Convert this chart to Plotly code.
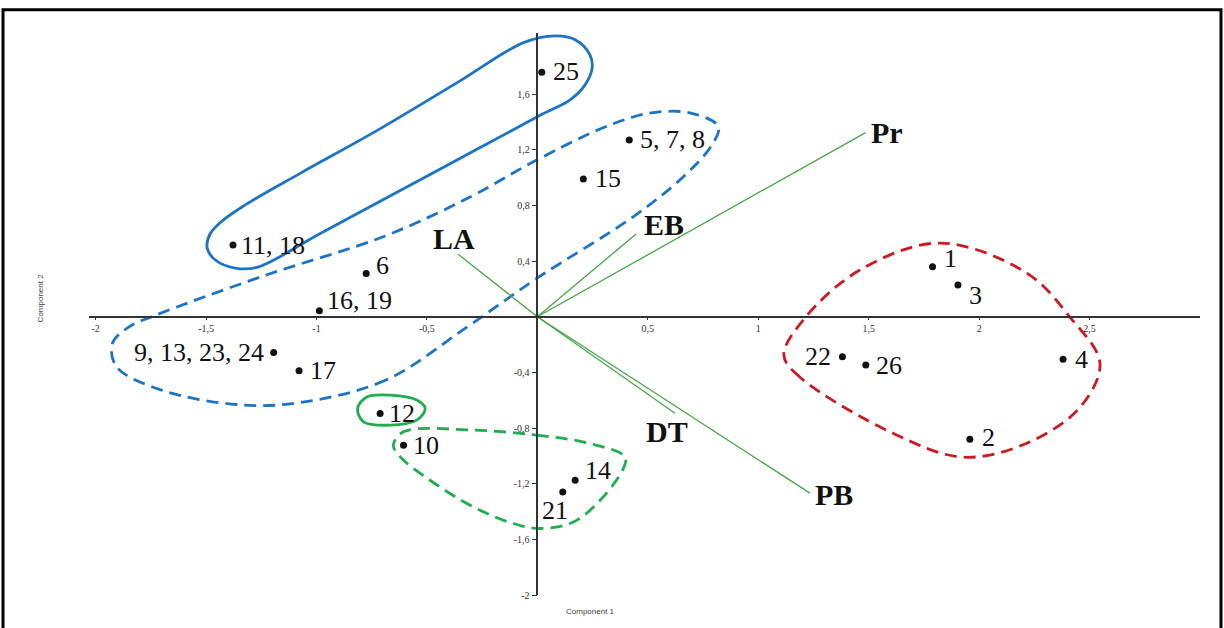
import plotly.graph_objects as go

# ---- sample scores on the first two principal components ----
sample_labels = ["25", "5, 7, 8", "15", "11, 18", "6", "16, 19", "9, 13, 23, 24", "17",
                 "12", "10", "14", "21", "1", "3", "22", "26", "4", "2"]
pc1_scores = [0.02, 0.416, 0.208, -1.378, -0.775, -0.987, -1.194, -1.079,
              -0.712, -0.606, 0.171, 0.115, 1.789, 1.904, 1.381, 1.487, 2.380, 1.958]
pc2_scores = [1.758, 1.270, 0.991, 0.516, 0.312, 0.043, -0.256, -0.388,
              -0.695, -0.923, -1.175, -1.259, 0.360, 0.228, -0.288, -0.347, -0.306, -0.880]

# ---- variable loadings (biplot vectors) ----
variable_names = ["Pr", "EB", "LA", "DT", "PB"]
load_pc1 = [1.486, 0.447, -0.360, 0.623, 1.234]
load_pc2 = [1.324, 0.595, 0.451, -0.693, -1.268]

# ---- axis ticks ----
x_tickvals = [-2, -1.5, -1, -0.5, 0.5, 1, 1.5, 2, 2.5]
x_ticktext = ["-2", "-1,5", "-1", "-0,5", "0,5", "1", "1,5", "2", "2,5"]
y_tickvals = [-2, -1.6, -1.2, -0.8, -0.4, 0.4, 0.8, 1.2, 1.6]
y_ticktext = ["-2", "-1,6", "-1,2", "-0,8", "-0,4", "0,4", "0,8", "1,2", "1,6"]

# ---- group outlines (closed curves, in component units) ----
outline_blue_solid = [(-0.621, 0.908), (-0.983, 0.599), (-1.270, 0.355), (-1.368, 0.350),
                      (-1.458, 0.408), (-1.495, 0.494), (-1.482, 0.595), (-1.427, 0.689),
                      (-1.323, 0.804), (-1.074, 1.031), (-0.713, 1.351), (-0.350, 1.696),
                      (-0.065, 1.969), (0.080, 2.019), (0.171, 1.991), (0.238, 1.883),
                      (0.248, 1.789), (0.216, 1.667), (0.148, 1.559), (0.012, 1.448),
                      (-0.259, 1.217)]
outline_blue_dash = [(-0.317, -0.072), (-0.686, -0.455), (-1.056, -0.612), (-1.332, -0.635),
                     (-1.702, -0.527), (-1.905, -0.360), (-1.924, -0.191), (-1.849, -0.072),
                     (-1.739, 0.005), (-1.241, 0.293), (-0.689, 0.581), (-0.305, 0.861),
                     (-0.003, 1.127), (0.329, 1.379), (0.525, 1.468), (0.699, 1.463),
                     (0.819, 1.367), (0.790, 1.235), (0.661, 1.007), (0.434, 0.719),
                     (-0.003, 0.276)]
outline_green_solid = [(-0.667, -0.563), (-0.546, -0.599), (-0.508, -0.659), (-0.546, -0.743),
                       (-0.667, -0.779), (-0.787, -0.755), (-0.814, -0.659), (-0.772, -0.576)]
outline_green_dash = [(-0.290, -0.815), (-0.003, -0.851), (0.238, -0.911), (0.397, -1.007),
                      (0.389, -1.091), (0.284, -1.319), (0.163, -1.475), (0.012, -1.522),
                      (-0.109, -1.486), (-0.290, -1.367), (-0.486, -1.175), (-0.621, -1.007),
                      (-0.652, -0.923), (-0.606, -0.827)]
outline_red_dash = [(1.610, -0.837), (1.189, -0.434), (1.116, -0.276), (1.211, -0.009),
                    (1.460, 0.336), (1.822, 0.530), (2.216, 0.314), (2.411, -0.002),
                    (2.547, -0.333), (2.457, -0.650), (2.216, -0.909), (1.926, -1.009)]

# label placement: (xanchor, xshift px, yshift px)
sample_label_pos = {
    "25": ("left", 9, 1), "5, 7, 8": ("left", 9, 1), "15": ("left", 10, 0),
    "11, 18": ("left", 6, 0), "6": ("left", 8, 8), "16, 19": ("left", 6, 10),
    "9, 13, 23, 24": ("right", -8, 0), "17": ("left", 9, 0), "12": ("left", 7, 0),
    "10": ("left", 7, 0), "14": ("left", 8, 10), "21": ("center", -8, -19),
    "1": ("left", 9, 8), "3": ("left", 9, -10), "22": ("right", -9, 0),
    "26": ("left", 8, 0), "4": ("left", 10, 0), "2": ("left", 10, 2),
}
variable_label_pos = {
    "Pr": ("left", 3, 0), "EB": ("left", 6, 10), "LA": ("center", -4, 16),
    "DT": ("center", -8, -18), "PB": ("left", 3, -1),
}

BLUE = "#1b74c5"
GREEN = "#1fae4f"
RED = "#cc1a22"
VEC_GREEN = "#4aa64a"

X_RANGE = [-2.03, 3.0]
Y_RANGE = [-2.0, 2.04]

fig = go.Figure()


def add_outline(points, color, dash):
    xs = [p[0] for p in points] + [points[0][0]]
    ys = [p[1] for p in points] + [points[0][1]]
    fig.add_trace(go.Scatter(
        x=xs, y=ys, mode="lines",
        line=dict(color=color, width=2.8, dash=dash, shape="spline", smoothing=1.0),
        hoverinfo="skip", showlegend=False,
    ))


add_outline(outline_blue_solid, BLUE, "solid")
add_outline(outline_blue_dash, BLUE, "12px,7px")
add_outline(outline_green_solid, GREEN, "solid")
add_outline(outline_green_dash, GREEN, "12px,7px")
add_outline(outline_red_dash, RED, "12px,7px")

# loading vectors from the origin
for name, vx, vy in zip(variable_names, load_pc1, load_pc2):
    fig.add_trace(go.Scatter(
        x=[0, vx], y=[0, vy], mode="lines",
        line=dict(color=VEC_GREEN, width=1.3),
        hoverinfo="skip", showlegend=False,
    ))

# sample points
fig.add_trace(go.Scatter(
    x=pc1_scores, y=pc2_scores, mode="markers",
    marker=dict(color="#111111", size=7),
    text=sample_labels, hoverinfo="text", showlegend=False,
))

annotations = []
for lab, sx, sy in zip(sample_labels, pc1_scores, pc2_scores):
    anchor, dx, dy = sample_label_pos[lab]
    annotations.append(dict(
        x=sx, y=sy, xref="x", yref="y", text=lab, showarrow=False,
        xanchor=anchor, yanchor="middle", xshift=dx, yshift=dy,
        font=dict(family="Liberation Serif", size=26, color="#111111"),
    ))
for name, vx, vy in zip(variable_names, load_pc1, load_pc2):
    anchor, dx, dy = variable_label_pos[name]
    annotations.append(dict(
        x=vx, y=vy, xref="x", yref="y", text="<b>%s</b>" % name, showarrow=False,
        xanchor=anchor, yanchor="middle", xshift=dx, yshift=dy,
        font=dict(family="Liberation Serif", size=30, color="#111111"),
    ))

# axis titles
annotations.append(dict(
    x=0.451, y=-0.030, xref="paper", yref="paper", text="Component 1",
    showarrow=False, xanchor="center", yanchor="middle",
    font=dict(family="Liberation Sans", size=8, color="#444444"),
))
annotations.append(dict(
    x=-0.044, y=0.528, xref="paper", yref="paper", text="Component 2",
    showarrow=False, xanchor="center", yanchor="middle", textangle=-90,
    font=dict(family="Liberation Sans", size=8, color="#444444"),
))

x_axis_pos = (0 - Y_RANGE[0]) / (Y_RANGE[1] - Y_RANGE[0])
y_axis_pos = (0 - X_RANGE[0]) / (X_RANGE[1] - X_RANGE[0])

fig.update_layout(
    width=1224, height=628,
    margin=dict(l=89, r=24, t=33, b=33),
    paper_bgcolor="white", plot_bgcolor="white",
    showlegend=False,
    annotations=annotations,
    xaxis=dict(
        range=X_RANGE, anchor="free", position=x_axis_pos,
        showgrid=False, zeroline=False, showline=True,
        linecolor="#333333", linewidth=1.5,
        ticks="outside", ticklen=2, tickcolor="#333333",
        tickvals=x_tickvals, ticktext=x_ticktext,
        tickfont=dict(family="Liberation Serif", size=10, color="#333333"),
    ),
    yaxis=dict(
        range=Y_RANGE, anchor="free", position=y_axis_pos,
        showgrid=False, zeroline=False, showline=True,
        linecolor="#333333", linewidth=1.5,
        ticks="outside", ticklen=5, tickcolor="#333333",
        tickvals=y_tickvals, ticktext=y_ticktext,
        tickfont=dict(family="Liberation Serif", size=10, color="#333333"),
    ),
    shapes=[dict(
        type="rect", xref="paper", yref="paper",
        x0=-0.0774, x1=1.0189, y0=-0.08, y1=1.0415,
        line=dict(color="black", width=3), fillcolor="rgba(0,0,0,0)", layer="above",
    )],
)

fig.write_html("out.html")
